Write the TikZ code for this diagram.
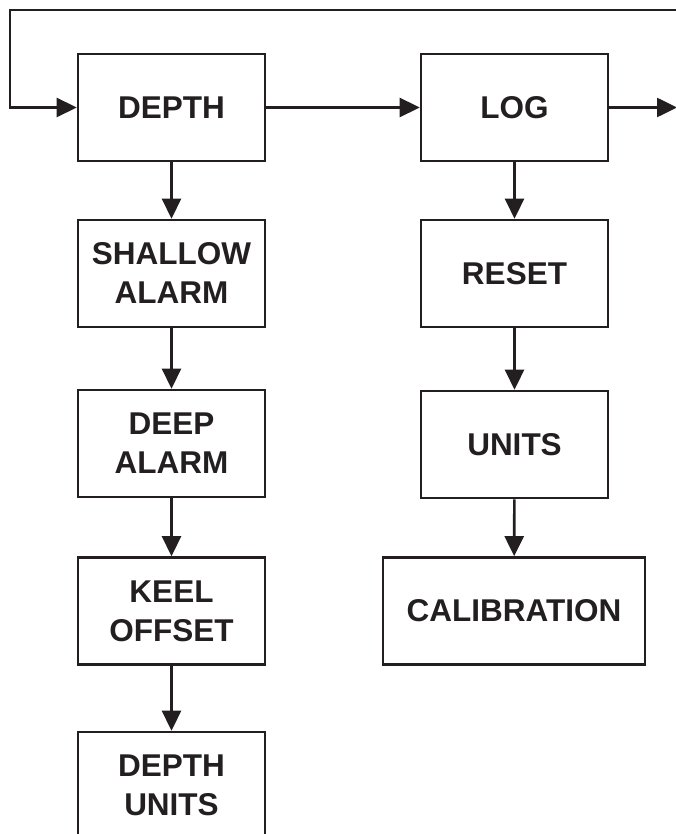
\documentclass[tikz,border=0pt]{standalone}
\usepackage{fontspec}
\setmainfont{Liberation Sans}
\usetikzlibrary{arrows.meta}
\definecolor{ink}{HTML}{231F20}
\begin{document}
\begin{tikzpicture}[x=1pt,y=-1pt,
  box/.style={shape=rectangle,draw=ink,text=ink,line width=2.6pt,minimum width=187pt,minimum height=107pt,align=center,font=\fontsize{31.5}{39}\selectfont\bfseries},
  link/.style={-{Triangle[length=20pt,width=19pt]},color=ink,line width=2.6pt}]
\clip (0,0) rectangle (676,834);
\node[box](D) at (171.5,107.5){DEPTH};
\node[box](SA) at (171.5,273.5){SHALLOW\\ALARM};
\node[box](DA) at (171.5,443.5){DEEP\\ALARM};
\node[box](KO) at (171.5,611){KEEL\\OFFSET};
\node[box](DU) at (171.5,785.5){DEPTH\\UNITS};
\node[box](L) at (514.5,107.5){LOG};
\node[box](R) at (514.5,273.5){RESET};
\node[box](U) at (514.5,444.5){UNITS};
\node[box,minimum width=262pt](C) at (514,611){CALIBRATION};
% loop back into depth
\coordinate(back) at (680,10);
\coordinate(corner) at (10,10);
\coordinate(next) at (677,107.5);
\draw[link] (back) -- (corner) |- (D);
\draw[link] (D) -- (L);
\draw[link] (L) -- (next);
\draw[link] (D) -- (SA);
\draw[link] (SA) -- (DA);
\draw[link] (DA) -- (KO);
\draw[link] (KO) -- (DU);
\draw[link] (L) -- (R);
\draw[link] (R) -- (U);
\draw[link] (U) -- (C);
\end{tikzpicture}
\end{document}
